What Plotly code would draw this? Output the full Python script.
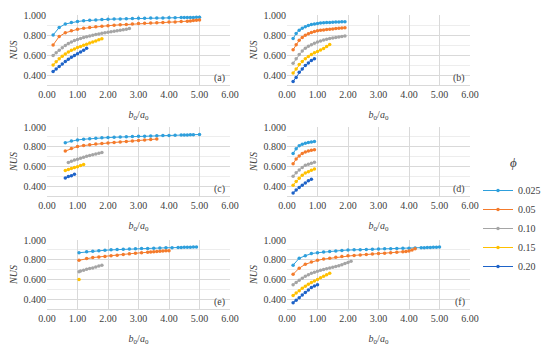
import plotly.graph_objects as go

# ---------------- data ----------------
phi_labels = ["0.025", "0.05", "0.10", "0.15", "0.20"]
phi_colors = ["#2E9FDC", "#F47B2C", "#A5A5A5", "#FFC000", "#1E63C8"]
panel_labels = ["(a)", "(b)", "(c)", "(d)", "(e)", "(f)"]
x_ticks = [0, 1, 2, 3, 4, 5, 6]
y_ticks = [0.4, 0.6, 0.8, 1.0]

# panel (a)
a_x_025 = [0.2,0.4,0.6,0.8,1.0,1.2,1.4,1.6,1.8,2.0,2.2,2.4,2.6,2.8,3.0,3.2,3.4,3.6,3.8,4.0,4.2,4.4,4.5,4.6,4.7,4.8,4.9,5.0]
a_y_025 = [0.80,0.875,0.910,0.925,0.935,0.942,0.947,0.951,0.954,0.957,0.959,0.961,0.963,0.965,0.967,0.968,0.969,0.970,0.971,0.972,0.973,0.974,0.975,0.975,0.976,0.976,0.977,0.977]
a_x_05 = [0.2,0.4,0.6,0.8,1.0,1.2,1.4,1.6,1.8,2.0,2.2,2.4,2.6,2.8,3.0,3.2,3.4,3.6,3.8,4.0,4.2,4.4,4.6,4.7,4.8,4.9,5.0]
a_y_05 = [0.70,0.785,0.822,0.843,0.857,0.867,0.875,0.882,0.888,0.893,0.898,0.902,0.906,0.910,0.914,0.917,0.920,0.923,0.926,0.929,0.931,0.934,0.937,0.940,0.944,0.947,0.949]
a_x_10 = [0.2,0.3,0.4,0.5,0.6,0.7,0.8,0.9,1.0,1.1,1.2,1.3,1.4,1.5,1.6,1.7,1.8,1.9,2.0,2.1,2.2,2.3,2.4,2.5,2.6,2.7]
a_y_10 = [0.595,0.622,0.648,0.673,0.695,0.714,0.730,0.744,0.756,0.766,0.775,0.783,0.791,0.798,0.805,0.811,0.817,0.823,0.828,0.833,0.838,0.843,0.848,0.853,0.858,0.864]
a_x_15 = [0.2,0.3,0.4,0.5,0.6,0.7,0.8,0.9,1.0,1.1,1.2,1.3,1.4,1.5,1.6,1.7,1.8]
a_y_15 = [0.50,0.533,0.562,0.588,0.611,0.630,0.647,0.661,0.674,0.686,0.697,0.708,0.719,0.730,0.741,0.752,0.763]
a_x_20 = [0.2,0.3,0.4,0.5,0.6,0.7,0.8,0.9,1.0,1.1,1.2,1.3]
a_y_20 = [0.435,0.460,0.485,0.510,0.534,0.557,0.578,0.596,0.612,0.630,0.648,0.667]

# panel (b)
b_x_025 = [0.2,0.3,0.4,0.5,0.6,0.7,0.8,0.9,1.0,1.1,1.2,1.3,1.4,1.5,1.6,1.7,1.8,1.9]
b_y_025 = [0.764,0.815,0.848,0.868,0.882,0.895,0.905,0.911,0.916,0.919,0.922,0.924,0.926,0.928,0.930,0.931,0.932,0.933]
b_x_05 = [0.2,0.3,0.4,0.5,0.6,0.7,0.8,0.9,1.0,1.1,1.2,1.3,1.4,1.5,1.6,1.7,1.8,1.9]
b_y_05 = [0.653,0.703,0.747,0.775,0.798,0.813,0.825,0.834,0.842,0.847,0.851,0.855,0.858,0.861,0.864,0.867,0.870,0.872]
b_x_10 = [0.2,0.3,0.4,0.5,0.6,0.7,0.8,0.9,1.0,1.1,1.2,1.3,1.4,1.5,1.6,1.7,1.8,1.9]
b_y_10 = [0.518,0.562,0.605,0.640,0.668,0.688,0.703,0.717,0.730,0.740,0.749,0.757,0.764,0.770,0.776,0.781,0.786,0.791]
b_x_15 = [0.2,0.3,0.4,0.5,0.6,0.7,0.8,0.9,1.0,1.1,1.2,1.3,1.4]
b_y_15 = [0.420,0.461,0.504,0.535,0.562,0.585,0.606,0.622,0.636,0.650,0.664,0.684,0.705]
b_x_20 = [0.2,0.3,0.4,0.5,0.6,0.7,0.8,0.9]
b_y_20 = [0.336,0.376,0.427,0.461,0.494,0.521,0.545,0.562]

# panel (c)
c_x_025 = [0.6,0.8,1.0,1.2,1.4,1.6,1.8,2.0,2.2,2.4,2.6,2.8,3.0,3.2,3.4,3.6,3.8,4.0,4.2,4.4,4.5,4.6,4.7,4.8,5.0]
c_y_025 = [0.841,0.857,0.869,0.876,0.882,0.886,0.890,0.893,0.896,0.898,0.900,0.903,0.905,0.907,0.909,0.911,0.913,0.915,0.917,0.919,0.920,0.920,0.921,0.922,0.924]
c_x_05 = [0.6,0.8,1.0,1.2,1.4,1.6,1.8,2.0,2.2,2.4,2.6,2.8,3.0,3.2,3.4,3.6]
c_y_05 = [0.756,0.782,0.802,0.812,0.820,0.827,0.833,0.838,0.843,0.848,0.853,0.858,0.863,0.868,0.873,0.878]
c_x_10 = [0.7,0.8,0.9,1.0,1.1,1.2,1.3,1.4,1.5,1.6,1.7,1.8]
c_y_10 = [0.640,0.652,0.664,0.674,0.684,0.693,0.702,0.710,0.718,0.726,0.734,0.741]
c_x_15 = [0.6,0.7,0.8,0.9,1.0,1.1,1.2]
c_y_15 = [0.558,0.569,0.579,0.589,0.598,0.609,0.619]
c_x_20 = [0.6,0.7,0.8,0.9]
c_y_20 = [0.482,0.497,0.506,0.521]

# panel (d)
d_x_025 = [0.2,0.3,0.4,0.5,0.6,0.7,0.8,0.9]
d_y_025 = [0.732,0.779,0.811,0.826,0.836,0.843,0.848,0.852]
d_x_05 = [0.2,0.3,0.4,0.5,0.6,0.7,0.8,0.9]
d_y_05 = [0.627,0.675,0.706,0.732,0.747,0.757,0.764,0.770]
d_x_10 = [0.2,0.3,0.4,0.5,0.6,0.7,0.8,0.9]
d_y_10 = [0.501,0.536,0.564,0.590,0.612,0.623,0.633,0.643]
d_x_15 = [0.2,0.3,0.4,0.5,0.6,0.7,0.8,0.9]
d_y_15 = [0.410,0.447,0.479,0.511,0.533,0.547,0.560,0.574]
d_x_20 = [0.2,0.3,0.4,0.5,0.6,0.7,0.8]
d_y_20 = [0.331,0.360,0.385,0.410,0.432,0.454,0.470]

# panel (e)
e_x_025 = [1.05,1.3,1.5,1.7,1.9,2.1,2.3,2.5,2.7,2.9,3.1,3.3,3.5,3.7,3.9,4.1,4.3,4.4,4.5,4.6,4.7,4.8,4.9]
e_y_025 = [0.871,0.880,0.886,0.891,0.896,0.900,0.903,0.906,0.909,0.911,0.913,0.915,0.917,0.919,0.921,0.922,0.924,0.925,0.926,0.927,0.927,0.928,0.929]
e_x_05 = [1.05,1.3,1.5,1.7,1.9,2.1,2.3,2.5,2.7,2.9,3.1,3.3,3.4,3.5,3.6,3.7,3.8,3.9,4.0]
e_y_05 = [0.794,0.812,0.822,0.828,0.833,0.839,0.845,0.852,0.860,0.866,0.871,0.876,0.879,0.882,0.884,0.886,0.888,0.890,0.892]
e_x_10 = [1.05,1.1,1.2,1.3,1.4,1.5,1.6,1.7,1.8]
e_y_10 = [0.677,0.685,0.694,0.702,0.710,0.717,0.726,0.735,0.745]
e_x_15 = [1.05]
e_y_15 = [0.600]
e_x_20 = []
e_y_20 = []

# panel (f)
f_x_025 = [0.2,0.4,0.6,0.8,1.0,1.2,1.4,1.6,1.8,2.0,2.2,2.4,2.6,2.8,3.0,3.2,3.4,3.6,3.8,4.0,4.2,4.4,4.5,4.6,4.7,4.8,4.9,5.0]
f_y_025 = [0.745,0.815,0.840,0.862,0.871,0.878,0.884,0.889,0.894,0.898,0.900,0.902,0.904,0.906,0.908,0.910,0.912,0.914,0.916,0.917,0.919,0.921,0.922,0.923,0.924,0.926,0.927,0.929]
f_x_05 = [0.2,0.4,0.6,0.8,1.0,1.2,1.4,1.6,1.8,2.0,2.2,2.4,2.6,2.8,3.0,3.2,3.4,3.6,3.8,3.9,4.0,4.1,4.2]
f_y_05 = [0.652,0.714,0.754,0.778,0.794,0.806,0.815,0.824,0.832,0.840,0.844,0.848,0.852,0.857,0.862,0.866,0.871,0.876,0.880,0.883,0.888,0.898,0.912]
f_x_10 = [0.2,0.3,0.4,0.5,0.6,0.7,0.8,0.9,1.0,1.1,1.2,1.3,1.4,1.5,1.6,1.7,1.8,1.9,2.0,2.1]
f_y_10 = [0.545,0.569,0.591,0.612,0.631,0.648,0.662,0.673,0.683,0.692,0.700,0.708,0.716,0.723,0.731,0.740,0.750,0.761,0.773,0.785]
f_x_15 = [0.2,0.3,0.4,0.5,0.6,0.7,0.8,0.9,1.0,1.1,1.2,1.3,1.4]
f_y_15 = [0.437,0.462,0.486,0.510,0.532,0.551,0.569,0.585,0.600,0.616,0.631,0.647,0.662]
f_x_20 = [0.2,0.3,0.4,0.5,0.6,0.7,0.8,0.9,1.0]
f_y_20 = [0.363,0.389,0.415,0.442,0.468,0.493,0.517,0.533,0.545]

panels = [
    [(a_x_025, a_y_025), (a_x_05, a_y_05), (a_x_10, a_y_10), (a_x_15, a_y_15), (a_x_20, a_y_20)],
    [(b_x_025, b_y_025), (b_x_05, b_y_05), (b_x_10, b_y_10), (b_x_15, b_y_15), (b_x_20, b_y_20)],
    [(c_x_025, c_y_025), (c_x_05, c_y_05), (c_x_10, c_y_10), (c_x_15, c_y_15), (c_x_20, c_y_20)],
    [(d_x_025, d_y_025), (d_x_05, d_y_05), (d_x_10, d_y_10), (d_x_15, d_y_15), (d_x_20, d_y_20)],
    [(e_x_025, e_y_025), (e_x_05, e_y_05), (e_x_10, e_y_10), (e_x_15, e_y_15), (e_x_20, e_y_20)],
    [(f_x_025, f_y_025), (f_x_05, f_y_05), (f_x_10, f_y_10), (f_x_15, f_y_15), (f_x_20, f_y_20)],
]

# ---------------- layout geometry (pixels) ----------------
W, H = 550, 349
col_px = [(39, 222), (279, 462)]
row_px = [(7, 77), (119, 188), (232, 301)]

FONT = "Liberation Serif"
TXT = "#404040"
GRID = "#D9D9D9"

fig = go.Figure()
layout = dict(
    width=W, height=H, margin=dict(l=0, r=0, t=0, b=0, autoexpand=False),
    paper_bgcolor="white", plot_bgcolor="white",
    font=dict(family=FONT, size=10, color=TXT),
    showlegend=True,
)
annotations = []

for p in range(6):
    r, c = divmod(p, 2)
    ax = "" if p == 0 else str(p + 1)
    x0, x1 = col_px[c]
    t, b = row_px[r]
    layout["xaxis" + ax] = dict(
        domain=[x0 / W, x1 / W], anchor="y" + ax, range=[0, 6], automargin=False,
        tickvals=x_ticks, ticktext=[f"{v:.2f}" for v in x_ticks],
        showgrid=True, gridcolor=GRID, gridwidth=1,
        showline=True, linecolor=GRID, linewidth=1, zeroline=False,
        ticks="", ticklen=0, tickfont=dict(family=FONT, size=10, color=TXT),
        title=dict(text="<i>b</i><sub>0</sub>/<i>a</i><sub>0</sub>",
                   font=dict(family=FONT, size=10, color=TXT), standoff=11),
    )
    layout["yaxis" + ax] = dict(
        domain=[1 - b / H, 1 - t / H], anchor="x" + ax, range=[0.3, 1.0], automargin=False,
        tickvals=y_ticks, ticktext=[f"{v:.3f}" for v in y_ticks],
        showgrid=True, gridcolor=GRID, gridwidth=1, zeroline=False,
        minor=dict(dtick=0.1, tick0=0.3, showgrid=True, gridcolor="#EDEDED", gridwidth=1),
        showline=False, ticks="", tickfont=dict(family=FONT, size=10, color=TXT),
        title=dict(text="<i>NUS</i>", font=dict(family=FONT, size=10, color=TXT), standoff=4),
    )
    for k, (xs, ys) in enumerate(panels[p]):
        fig.add_trace(go.Scatter(
            x=xs, y=ys, mode="lines+markers",
            name=phi_labels[k], legendgroup=phi_labels[k], showlegend=(p == 0),
            line=dict(color=phi_colors[k], width=1),
            marker=dict(color=phi_colors[k], size=3.5, symbol="circle"),
            xaxis="x" + ax, yaxis="y" + ax,
        ))
    annotations.append(dict(
        text=panel_labels[p], xref=f"x{ax} domain", yref=f"y{ax} domain",
        x=0.985, y=0.1, xanchor="right", yanchor="middle", showarrow=False,
        font=dict(family=FONT, size=10, color=TXT),
    ))

annotations.append(dict(
    text="<i>ϕ</i>", xref="paper", yref="paper", x=505 / W, y=1 - 154 / H,
    xanchor="center", yanchor="middle", showarrow=False,
    font=dict(family=FONT, size=13, color=TXT),
))
layout["annotations"] = annotations
layout["legend"] = dict(
    x=470 / W, y=1 - 168 / H, xanchor="left", yanchor="top",
    bgcolor="rgba(0,0,0,0)", font=dict(family=FONT, size=10, color=TXT),
    itemwidth=30, tracegroupgap=0,
)
fig.update_layout(**layout)
fig.write_html("out.html")
